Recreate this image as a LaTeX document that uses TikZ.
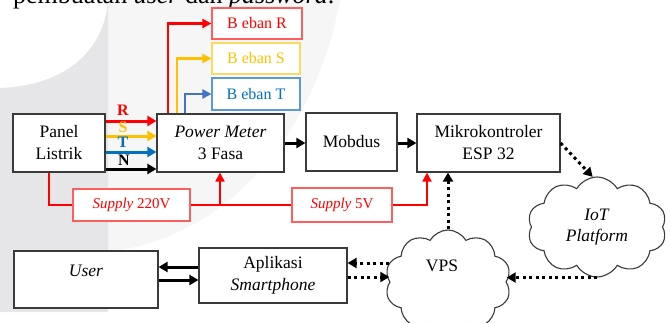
\documentclass[tikz,border=0pt]{standalone}
\usepackage{fontspec}
\setmainfont{Liberation Serif}
\usetikzlibrary{arrows.meta,shapes.symbols,calc}
\definecolor{boxc}{HTML}{3A3A3A}
\definecolor{lred}{HTML}{FF5E5E}
\definecolor{yel}{HTML}{FFC000}
\definecolor{lyel}{HTML}{FFD966}
\definecolor{tblue}{HTML}{0070C0}
\definecolor{lblue}{HTML}{5B9BD5}
\definecolor{lineblue}{HTML}{4472C4}
\definecolor{bgdark}{HTML}{E6E6E8}
\definecolor{bglight}{HTML}{F6F6F6}
\tikzset{
  box/.style={draw=boxc, line width=1.2pt, fill=white, inner sep=0pt, align=center, font=\fontsize{17.5}{22}\selectfont},
  lbox/.style={draw=#1, line width=1.2pt, fill=white, inner sep=0pt, align=center, font=\fontsize{16}{19}\selectfont},
  sbox/.style={draw=lred, line width=1.2pt, fill=white, inner sep=0pt, text=red, font=\fontsize{15}{18}\selectfont},
  btext/.style={inner sep=0pt, font=\fontsize{17.5}{22}\selectfont},
  tip/.style={-{Triangle[length=9pt,width=9pt]}},
  phase/.style={line width=3pt, -{Triangle[length=9pt,width=10pt]}},
  feed/.style={line width=2.5pt, -{Triangle[length=9pt,width=9pt]}},
  supply/.style={draw=red, line width=2pt},
  dotarrow/.style={line width=3pt, dash pattern=on 3pt off 3.5pt, -{Triangle[length=9pt,width=10pt]}},
  cloudnode/.style={cloud, cloud puffs=10, cloud puff arc=120, cloud ignores aspect, draw=boxc, line width=1.1pt, fill=white, inner sep=0pt, align=center, font=\fontsize{17.5}{21}\selectfont},
  plabel/.style={inner sep=0pt, font=\bfseries\fontsize{16}{16}\selectfont}
}
\begin{document}
\begin{tikzpicture}[x=1pt,y=-1pt]
\useasboundingbox (0,0) rectangle (671,322);
% background watermark
\fill[bglight] (108,0) -- (340,0) .. controls (318,120) and (240,235) .. (108,252) -- cycle;
\fill[bgdark] (0,88) .. controls (60,86) and (104,55) .. (108,0) -- (108,312) -- (0,312) -- cycle;
% cut-off caption text
\node[anchor=base west, inner sep=0pt, font=\fontsize{26}{26}\selectfont] (cap) at (13,3.5) {pembuatan \textit{user} dan \textit{password}.};
% boxes
\node[box, minimum width=92pt, minimum height=58pt] (panel) at (59,143) {Panel\\Listrik};
\node[box, minimum width=127pt, minimum height=58pt] (pm) at (220.5,143) {\textit{Power Meter}\\3 Fasa};
\node[box, minimum width=91pt, minimum height=58pt] (mob) at (351.5,142) {Mobdus};
\node[box, minimum width=143pt, minimum height=58pt] (mk) at (488.5,143) {Mikrokontroler\\ESP 32};
\node[lbox=lred, text=red, minimum width=90pt, minimum height=31pt] (bR) at (257,23.5) {B eban R};
\node[lbox=lyel, text=yel, minimum width=88pt, minimum height=31pt] (bS) at (256,58.5) {B eban S};
\node[lbox=lblue, text=tblue, minimum width=88pt, minimum height=32pt] (bT) at (256,94) {B eban T};
\node[sbox, minimum width=117pt, minimum height=32pt] (s220) at (131.5,205) {\textit{Supply} 220V};
\node[sbox, minimum width=100pt, minimum height=34pt] (s5) at (342,205) {\textit{Supply} 5V};
\node[box, minimum width=144pt, minimum height=57pt] (user) at (86,279.5) {};
\node[btext] (usertext) at (86,271) {\textit{User}};
\node[box, minimum width=148pt, minimum height=55pt] (app) at (273,275.5) {Aplikasi\\\textit{Smartphone}};
\node[cloudnode, minimum width=139pt, minimum height=100pt] (iot) at (597,227) {\textit{IoT}\\\textit{Platform}};
\node[cloudnode, minimum width=126pt, minimum height=104pt] (vps) at (448,282) {};
\node[btext] (vpstext) at (442,266) {VPS};
% phase lines
\draw[phase, red] (panel.east |- 0,121) -- (pm.west |- 0,121);
\draw[phase, yel] (panel.east |- 0,136) -- (pm.west |- 0,136);
\draw[phase, tblue] (panel.east |- 0,152) -- (pm.west |- 0,152);
\draw[phase, black] (panel.east |- 0,169) -- (pm.west |- 0,169);
\node[plabel, text=red] (lR) at (123,110) {R};
\node[plabel, text=yel] (lS) at (123,127) {S};
\node[plabel, text=tblue] (lT) at (123,142.5) {T};
\node[plabel, text=black] (lN) at (124,160) {N};
% loads
\draw[feed, red] (pm.north -| 168,0) |- (bR.west);
\draw[feed, yel] (pm.north -| 177,0) |- (bS.west);
\draw[feed, lineblue] (pm.north -| 185,0) |- (bT.west);
% supply
\draw[supply] (panel.south -| 49,0) |- (s220.west);
\draw[supply] (s220.east) -- (s5.west);
\coordinate (j1) at (220,205);
\draw[supply, tip] (j1) -- (pm.south -| j1);
\draw[supply, tip] (s5.east) -| (mk.south -| 427,0);
% data
\draw[phase] (pm.east |- 0,143) -- (mob.west |- 0,143);
\draw[phase] (mob.east |- 0,143) -- (mk.west |- 0,143);
\draw[dotarrow] (mk.east) -- (iot.95);
\draw[dotarrow] (vps.north) -- (mk.south -| vps.north);
\draw[dotarrow] (iot.south) -- (vps.east |- iot.south);
\draw[dotarrow] (vps.west |- 0,263) -- (app.east |- 0,263);
\draw[dotarrow] (app.east |- 0,277) -- (vps.west |- 0,277);
\draw[phase] (app.west |- 0,267) -- (user.east |- 0,267);
\draw[phase] (user.east |- 0,280) -- (app.west |- 0,280);
\end{tikzpicture}
\end{document}
